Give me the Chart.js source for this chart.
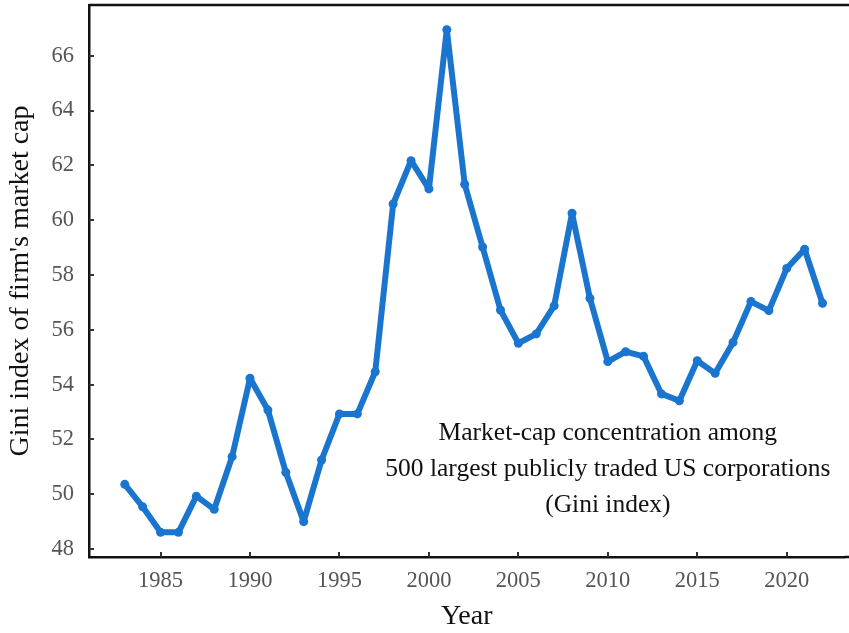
<!DOCTYPE html>
<html>
<head>
<meta charset="utf-8">
<script src="https://cdn.jsdelivr.net/npm/chart.js@4.4.1/dist/chart.umd.min.js"></script>
<style>
  html, body { margin: 0; padding: 0; background: #fff; }
  #wrap { width: 849px; height: 633px; }
</style>
</head>
<body>
<div id="wrap"><canvas id="chart" width="849" height="633"></canvas></div>
<script>
const years = [1983, 1984, 1985, 1986, 1987, 1988, 1989, 1990, 1991, 1992,
               1993, 1994, 1995, 1996, 1997, 1998, 1999, 2000, 2001, 2002,
               2003, 2004, 2005, 2006, 2007, 2008, 2009, 2010, 2011, 2012,
               2013, 2014, 2015, 2016, 2017, 2018, 2019, 2020, 2021, 2022];
const gini = [50.36, 49.54, 48.61, 48.61, 49.93, 49.45, 51.37, 54.23, 53.07, 50.80,
              49.00, 51.25, 52.93, 52.93, 54.47, 60.59, 62.17, 61.14, 66.95, 61.31,
              59.02, 56.72, 55.51, 55.85, 56.87, 60.25, 57.15, 54.84, 55.20, 55.03,
              53.66, 53.41, 54.87, 54.41, 55.54, 57.03, 56.70, 58.24, 58.94, 56.97];
const xTicks = [1985, 1990, 1995, 2000, 2005, 2010, 2015, 2020];
const yTicks = [48, 50, 52, 54, 56, 58, 60, 62, 64, 66];
const noteLines = ['Market-cap concentration among',
                   '500 largest publicly traded US corporations',
                   '(Gini index)'];

const serif = "'Liberation Serif', 'DejaVu Serif', serif";

// рамка сверху, засечки внутрь и подпись
const framePlugin = {
    id: 'frame',
    afterDraw(chart) {
        const ctx = chart.ctx;
        const a = chart.chartArea;
        const x = chart.scales.x, y = chart.scales.y;
        ctx.save();
        ctx.strokeStyle = '#111';
        ctx.lineWidth = 2.5;
        ctx.beginPath();
        ctx.moveTo(a.left, a.top);
        ctx.lineTo(chart.width, a.top);
        ctx.moveTo(a.right, a.bottom);
        ctx.lineTo(chart.width, a.bottom);
        ctx.stroke();
        ctx.lineWidth = 2;
        ctx.strokeStyle = '#333';
        ctx.beginPath();
        xTicks.forEach(v => {
            const px = Math.round(x.getPixelForValue(v));
            ctx.moveTo(px, a.bottom);
            ctx.lineTo(px, a.bottom - 5);
        });
        yTicks.forEach(v => {
            const py = Math.round(y.getPixelForValue(v));
            ctx.moveTo(a.left, py);
            ctx.lineTo(a.left + 5, py);
        });
        ctx.stroke();

        ctx.fillStyle = '#111';
        ctx.font = '25.5px ' + serif;
        ctx.textAlign = 'center';
        ctx.textBaseline = 'alphabetic';
        const cx = x.getPixelForValue(2010);
        const base = y.getPixelForValue(51.98);
        noteLines.forEach((t, i) => {
            ctx.fillText(t, cx, base + i * 36);
        });
        ctx.restore();
    }
};

new Chart(document.getElementById('chart'), {
    type: 'line',
    data: {
        datasets: [{
            data: years.map((yr, i) => ({ x: yr, y: gini[i] })),
            borderColor: '#1a75cf',
            backgroundColor: '#1a75cf',
            borderWidth: 6,
            borderJoinStyle: 'round',
            borderCapStyle: 'round',
            pointRadius: 4.5,
            pointHoverRadius: 4.5,
            pointBorderWidth: 0,
            tension: 0
        }]
    },
    options: {
        responsive: false,
        animation: false,
        layout: { padding: { top: 5, right: 0, left: 0, bottom: 0 } },
        plugins: { legend: { display: false }, tooltip: { enabled: false } },
        scales: {
            x: {
                type: 'linear',
                min: 1981,
                max: 2023.23,
                afterBuildTicks: axis => { axis.ticks = xTicks.map(v => ({ value: v })); },
                afterFit: axis => {
                    axis.height = 76;
                    axis.paddingLeft = 0;
                    axis.paddingRight = 0;
                },
                grid: { display: false },
                border: { display: true, color: '#111', width: 2.5 },
                ticks: {
                    color: '#555',
                    padding: 3,
                    maxRotation: 0,
                    font: { family: serif, size: 22.5 },
                    callback: v => String(v)
                },
                title: {
                    display: true,
                    text: 'Year',
                    color: '#111',
                    font: { family: serif, size: 28 },
                    padding: { top: 0, bottom: 0 }
                }
            },
            y: {
                min: 47.71,
                max: 67.85,
                afterBuildTicks: axis => { axis.ticks = yTicks.map(v => ({ value: v })); },
                afterFit: axis => {
                    axis.width = 89;
                    axis.paddingTop = 0;
                    axis.paddingBottom = 0;
                },
                grid: { display: false },
                border: { display: true, color: '#111', width: 2.5 },
                ticks: {
                    color: '#555',
                    padding: 7,
                    font: { family: serif, size: 22.5 },
                    callback: v => String(v)
                },
                title: {
                    display: true,
                    text: "Gini index of firm's market cap",
                    color: '#111',
                    font: { family: serif, size: 28 },
                    padding: { top: 4, bottom: 0 }
                }
            }
        }
    },
    plugins: [framePlugin]
});
</script>
</body>
</html>
